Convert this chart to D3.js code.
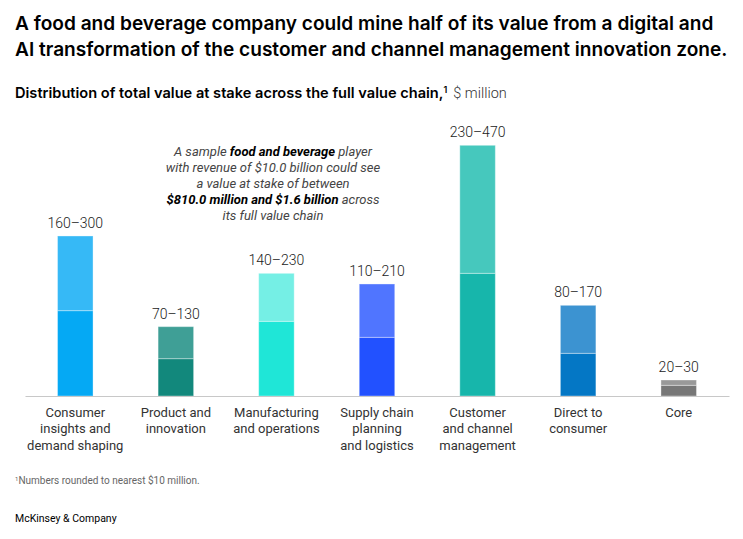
<!DOCTYPE html>
<html>
<head>
<meta charset="utf-8">
<script src="https://cdn.jsdelivr.net/npm/d3@7"></script>
<style>
  html, body { margin: 0; padding: 0; background: #fff; }
  svg { display: block; }
</style>
</head>
<body>
<svg id="chart" width="743" height="539"></svg>
<script>
// ---- data ----
const categories = [
  ["Consumer", "insights and", "demand shaping"],
  ["Product and", "innovation"],
  ["Manufacturing", "and operations"],
  ["Supply chain", "planning", "and logistics"],
  ["Customer", "and channel", "management"],
  ["Direct to", "consumer"],
  ["Core"]
];
const lowValues  = [160, 70, 140, 110, 230, 80, 20];
const highValues = [300, 130, 230, 210, 470, 170, 30];
const lowColors  = ["#05a9f4", "#12887c", "#1fe6d7", "#2251ff", "#17b6ab", "#0477c5", "#777777"];
const highColors = ["#36b9f6", "#3f9f96", "#75efe5", "#5075ff", "#46c8bd", "#3c93d1", "#999999"];
const titleLines = [
  "A food and beverage company could mine half of its value from a digital and",
  "AI transformation of the customer and channel management innovation zone."
];

const svg = d3.select("#chart");
const font = "Inter, 'Noto Sans', sans-serif";
const body = "Roboto, 'Noto Sans', sans-serif";

// ---- title ----
svg.append("g").selectAll("text").data(titleLines).join("text")
  .attr("x", 15).attr("y", (d, i) => 30 + i * 26)
  .attr("font-family", font).attr("font-weight", 600).attr("font-size", 19.1)
  .attr("fill", "#000")
  .text(d => d);

const sub = svg.append("text").attr("x", 15).attr("y", 98)
  .attr("font-family", font).attr("font-size", 14.6).attr("fill", "#000");
sub.append("tspan").attr("font-weight", 600).text("Distribution of total value at stake across the full value chain,");
sub.append("tspan").attr("font-weight", 600).attr("font-size", 9).attr("dy", -5).text("1");
sub.append("tspan").attr("dy", 5).attr("dx", 6).attr("fill", "#333").attr("font-family", body)
  .attr("font-weight", 300).attr("font-size", 14.5).text("$ million");

// ---- scales ----
const x = d3.scaleBand().domain(d3.range(categories.length))
  .range([25, 729]).paddingInner(0.647).paddingOuter(0.3235);
const y = d3.scaleLinear().domain([0, 470]).range([396, 145.3]);

const g = svg.append("g");
const bars = g.selectAll("g.bar").data(d3.range(categories.length)).join("g");
bars.append("rect")
  .attr("x", i => x(i)).attr("width", x.bandwidth())
  .attr("y", i => y(lowValues[i])).attr("height", i => y(0) - y(lowValues[i]))
  .attr("fill", i => lowColors[i]);
bars.append("rect")
  .attr("x", i => x(i)).attr("width", x.bandwidth())
  .attr("y", i => y(highValues[i])).attr("height", i => y(lowValues[i]) - y(highValues[i]))
  .attr("fill", i => highColors[i]);
bars.selectAll("rect").attr("stroke", "rgba(255,255,255,0.35)").attr("stroke-width", 1);

bars.append("text")
  .attr("x", i => x(i) + x.bandwidth() / 2).attr("y", i => y(highValues[i]) - 8)
  .attr("text-anchor", "middle").attr("font-family", body).attr("font-size", 14)
  .attr("font-weight", 300).attr("fill", "#222")
  .text(i => lowValues[i] + "–" + highValues[i]);

// ---- axis ----
const axis = svg.append("g").attr("transform", `translate(0,${y(0)})`)
  .call(d3.axisBottom(x).tickSize(0).tickFormat(""));
axis.select(".domain").attr("stroke", "#c8c8c8").attr("stroke-width", 1.2);

const labels = svg.append("g").selectAll("text").data(d3.range(categories.length)).join("text")
  .attr("text-anchor", "middle").attr("font-family", body).attr("font-size", 13)
  .attr("fill", "#333");
labels.selectAll("tspan").data(i => categories[i].map(l => ({ l, i }))).join("tspan")
  .attr("x", d => x(d.i) + x.bandwidth() / 2)
  .attr("y", (d, k) => 417 + k * 16.3)
  .text(d => d.l);

// ---- annotation ----
const ann = [
  [["A sample ", false], ["food and beverage", true], [" player", false]],
  [["with revenue of $10.0 billion could see", false]],
  [["a value at stake of between", false]],
  [["$810.0 million and $1.6 billion", true], [" across", false]],
  [["its full value chain", false]]
];
const annG = svg.append("g");
ann.forEach((line, k) => {
  const t = annG.append("text").attr("x", 273).attr("y", 156 + k * 16.1)
    .attr("text-anchor", "middle").attr("font-family", body).attr("font-style", "italic")
    .attr("font-size", 13).attr("fill", "#444");
  line.forEach(([s, b]) => {
    t.append("tspan").attr("font-weight", b ? 700 : 400).attr("fill", b ? "#000" : "#444").text(s);
  });
});

// ---- footnote & source ----
const fn = svg.append("text").attr("x", 15).attr("y", 484)
  .attr("font-family", body).attr("font-size", 10).attr("fill", "#666");
fn.append("tspan").attr("font-size", 6).attr("dy", -3).text("1");
fn.append("tspan").attr("dy", 3).text("Numbers rounded to nearest $10 million.");

svg.append("text").attr("x", 15).attr("y", 522)
  .attr("font-family", body).attr("font-size", 10.5).attr("fill", "#000")
  .text("McKinsey & Company");
</script>
</body>
</html>
